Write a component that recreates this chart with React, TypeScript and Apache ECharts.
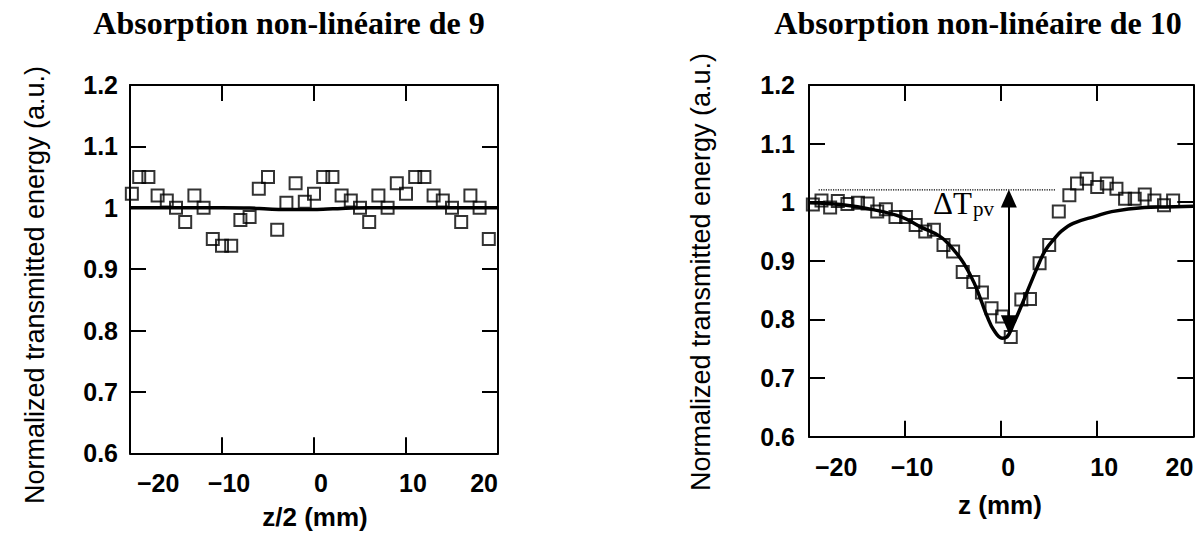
import React, { useEffect, useRef } from "react";
import * as echarts from "echarts";

// ---- Left panel: Absorption non-linéaire de 9 (x axis = z/2 in mm)
const zHalf = [-19.8, -19, -18, -17, -16, -15, -14, -13, -12, -11, -10, -9, -8, -7, -6, -5, -4, -3, -2, -1, 0, 1, 2, 3, 4, 5, 6, 7, 8, 9, 10, 11, 12, 13, 14, 15, 16, 17, 18, 19];
const tNine = [1.023, 1.05, 1.05, 1.02, 1.012, 1.0, 0.977, 1.02, 1.0, 0.949, 0.938, 0.938, 0.98, 0.985, 1.031, 1.05, 0.964, 1.008, 1.04, 1.01, 1.023, 1.05, 1.05, 1.02, 1.012, 1.0, 0.977, 1.02, 1.0, 1.04, 1.023, 1.05, 1.05, 1.02, 1.012, 1.0, 0.977, 1.02, 1.0, 0.949];
const zFitNine = [-20, -10, -7, -5, -2, 1, 3, 6, 20];
const tFitNine = [1.0, 1.0, 0.9995, 0.998, 0.997, 0.9975, 0.999, 1.0, 1.0];

// ---- Right panel: Absorption non-linéaire de 10 (x axis = z in mm)
const zTen = [-19.6, -18.7, -17.8, -17.0, -16.0, -14.9, -13.9, -12.9, -12.0, -11.0, -9.9, -8.9, -7.9, -7.0, -6.0, -5.0, -4.0, -2.9, -2.0, -1.0, 0.1, 1.0, 2.1, 3.0, 4.0, 5.0, 6.0, 7.1, 7.9, 8.9, 10.0, 11.0, 12.0, 12.9, 13.9, 14.95, 15.95, 16.95, 17.9];
const tTen = [0.996, 1.003, 0.991, 1.002, 0.997, 0.999, 0.998, 0.984, 0.988, 0.975, 0.975, 0.961, 0.95, 0.953, 0.927, 0.916, 0.881, 0.864, 0.846, 0.819, 0.805, 0.77, 0.834, 0.835, 0.896, 0.927, 0.984, 1.012, 1.032, 1.04, 1.026, 1.032, 1.023, 1.006, 1.006, 1.013, 1.003, 0.995, 1.003];
const zFitTen = [-20, -16.7, -13.2, -10.4, -8.4, -6.3, -4.9, -3.9, -2.8, -2.1, -1.45, -0.77, 0.1, 0.6, 1.3, 2.2, 3.0, 4.0, 4.6, 5.45, 6.3, 7.5, 9.8, 11.5, 14.9, 17.2, 20];
const tFitTen = [0.999, 0.996, 0.987, 0.975, 0.958, 0.941, 0.918, 0.896, 0.862, 0.833, 0.805, 0.782, 0.768, 0.77, 0.793, 0.827, 0.859, 0.898, 0.918, 0.936, 0.951, 0.964, 0.976, 0.984, 0.991, 0.992, 0.993];

// reference level and peak-to-valley arrow
const zRefLevel = [-19, 5.7];
const tRefLevel = [1.021, 1.021];
const zArrow = 0.8;
const tArrow = [0.792, 1.0065];

// axes
const xMin = -20;
const xMax = 20;
const xStep = 10;
const yMin = 0.6;
const yMax = 1.2;
const yStep = 0.1;

const titles = ["Absorption non-linéaire de 9", "Absorption non-linéaire de 10"];
const xNames = ["z/2 (mm)", "z (mm)"];
const yName = "Normalized transmitted energy (a.u.)";

const zip = (xs: number[], ys: number[]) => xs.map((x, i) => [x, ys[i]]);

export default function App() {
  const ref = useRef<HTMLDivElement>(null);

  useEffect(() => {
    document.body.style.margin = "0";
    const chart = echarts.init(ref.current!, null, { renderer: "svg" });

    const sans = "Liberation Sans";
    const serif = "Liberation Serif";
    const labelFont = { fontFamily: sans, fontWeight: "bold" as const, fontSize: 25, color: "#000" };
    const axisLine = { show: true, onZero: false, lineStyle: { color: "#000", width: 2 } };
    const axisTick = { show: true, inside: true, length: 16, lineStyle: { color: "#000", width: 2 } };

    const fmtX = (v: number) => {
      const s = v < 0 ? "\u2212" + Math.abs(v) : String(v);
      if (v === xMin) return `{l|${s}}`;
      if (v === xMax) return `{r|${s}}`;
      return `{c|${s}}`;
    };
    const fmtY = (v: number) => (Math.abs(v - 1) < 1e-6 ? "1" : v.toFixed(1));

    const bottomX = (grid: number, margin: number, padMin: number) => ({
      type: "value",
      gridIndex: grid,
      position: "bottom",
      min: xMin,
      max: xMax,
      interval: xStep,
      axisLine,
      axisTick,
      splitLine: { show: false },
      axisLabel: {
        ...labelFont,
        margin,
        alignMinLabel: "left",
        alignMaxLabel: "right",
        formatter: fmtX,
        rich: {
          c: { ...labelFont, padding: [0, 0, 0, 14] },
          l: { ...labelFont, padding: [0, 0, 0, padMin] },
          r: { ...labelFont },
        },
      },
    });
    const topX = (grid: number) => ({
      type: "value",
      gridIndex: grid,
      position: "top",
      min: xMin,
      max: xMax,
      interval: xStep,
      axisLine,
      axisTick,
      axisLabel: { show: false },
      splitLine: { show: false },
    });
    const leftY = (grid: number, margin: number) => ({
      type: "value",
      gridIndex: grid,
      position: "left",
      min: yMin,
      max: yMax,
      interval: yStep,
      axisLine,
      axisTick,
      splitLine: { show: false },
      axisLabel: { ...labelFont, margin, formatter: fmtY },
    });
    const rightY = (grid: number) => ({
      type: "value",
      gridIndex: grid,
      position: "right",
      min: yMin,
      max: yMax,
      interval: yStep,
      axisLine,
      axisTick,
      axisLabel: { show: false },
      splitLine: { show: false },
    });

    const fitLine = (xi: number, data: number[][]) => ({
      type: "line",
      xAxisIndex: xi,
      yAxisIndex: xi,
      data,
      symbol: "none",
      smooth: 0.4,
      lineStyle: { color: "#000", width: 3.5 },
      z: 2,
      silent: true,
    });
    const squares = (xi: number, data: number[][]) => ({
      type: "scatter",
      xAxisIndex: xi,
      yAxisIndex: xi,
      data,
      symbol: "rect",
      symbolSize: 12,
      itemStyle: { color: "rgba(0,0,0,0)", borderColor: "#000", borderWidth: 2 },
      z: 3,
      silent: true,
    });

    const option = {
      animation: false,
      backgroundColor: "#fff",
      grid: [
        { left: 130, top: 85, width: 368, height: 368.3 },
        { left: 809, top: 85, width: 384.3, height: 351.7 },
      ],
      xAxis: [bottomX(0, 17, 7), topX(0), bottomX(1, 18, 6), topX(1)],
      yAxis: [leftY(0, 12), rightY(0), leftY(1, 14), rightY(1)],
      series: [
        fitLine(0, zip(zFitNine, tFitNine)),
        squares(0, zip(zHalf, tNine)),
        fitLine(2, zip(zFitTen, tFitTen)),
        squares(2, zip(zTen, tTen)),
        {
          type: "line",
          xAxisIndex: 2,
          yAxisIndex: 2,
          data: zip(zRefLevel, tRefLevel),
          symbol: "none",
          lineStyle: { color: "#000", width: 1.2, type: "dotted" },
          z: 1,
          silent: true,
          markLine: {
            silent: true,
            symbol: ["triangle", "triangle"],
            symbolSize: [16, 18],
            label: { show: false },
            lineStyle: { color: "#000", width: 2, type: "solid" },
            itemStyle: { color: "#000" },
            data: [[{ coord: [zArrow, tArrow[0]] }, { coord: [zArrow, tArrow[1]] }]],
          },
        },
      ],
      graphic: [
        {
          type: "text",
          x: 289,
          y: 23,
          style: { text: titles[0], fontFamily: serif, fontWeight: "bold", fontSize: 32, fill: "#000", align: "center", verticalAlign: "middle" },
        },
        {
          type: "text",
          x: 978,
          y: 23,
          style: { text: titles[1], fontFamily: serif, fontWeight: "bold", fontSize: 32, fill: "#000", align: "center", verticalAlign: "middle" },
        },
        {
          type: "text",
          x: 35,
          y: 285,
          rotation: Math.PI / 2,
          style: { text: yName, fontFamily: sans, fontSize: 27, fill: "#000", align: "center", verticalAlign: "middle" },
        },
        {
          type: "text",
          x: 701,
          y: 272,
          rotation: Math.PI / 2,
          style: { text: yName, fontFamily: sans, fontSize: 27, fill: "#000", align: "center", verticalAlign: "middle" },
        },
        {
          type: "text",
          x: 315,
          y: 517,
          style: { text: xNames[0], fontFamily: sans, fontWeight: "bold", fontSize: 26, fill: "#000", align: "center", verticalAlign: "middle" },
        },
        {
          type: "text",
          x: 1000,
          y: 505,
          style: { text: xNames[1], fontFamily: sans, fontWeight: "bold", fontSize: 26, fill: "#000", align: "center", verticalAlign: "middle" },
        },
        {
          type: "text",
          x: 933,
          y: 203,
          style: { text: "\u0394T", fontFamily: serif, fontSize: 31, fill: "#000", align: "left", verticalAlign: "middle" },
        },
        {
          type: "text",
          x: 973,
          y: 209,
          style: { text: "pv", fontFamily: serif, fontSize: 21, fill: "#000", align: "left", verticalAlign: "middle" },
        },
      ],
    };

    chart.setOption(option as any);
    return () => chart.dispose();
  }, []);

  return <div ref={ref} style={{ width: 1200, height: 534 }} />;
}
